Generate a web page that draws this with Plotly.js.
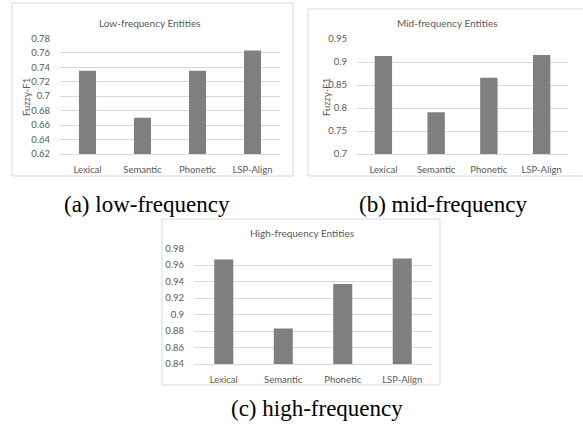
<!DOCTYPE html>
<html>
<head>
<meta charset="utf-8">
<script src="https://cdn.plot.ly/plotly-3.0.1.min.js"></script>
<style>html,body{margin:0;padding:0;background:#fff;}#chart{width:583px;height:425px;}</style>
</head>
<body>
<div id="chart"></div>
<script>
const categories = ["Lexical", "Semantic", "Phonetic", "LSP-Align"];
const lowValues = [0.735, 0.670, 0.735, 0.763];
const midValues = [0.913, 0.791, 0.866, 0.915];
const highValues = [0.967, 0.883, 0.937, 0.968];
const lowTicks = [0.62, 0.64, 0.66, 0.68, 0.70, 0.72, 0.74, 0.76, 0.78];
const lowTickText = ["0.62", "0.64", "0.66", "0.68", "0.7", "0.72", "0.74", "0.76", "0.78"];
const midTicks = [0.70, 0.75, 0.80, 0.85, 0.90, 0.95];
const midTickText = ["0.7", "0.75", "0.8", "0.85", "0.9", "0.95"];
const highTicks = [0.84, 0.86, 0.88, 0.90, 0.92, 0.94, 0.96, 0.98];
const highTickText = ["0.84", "0.86", "0.88", "0.9", "0.92", "0.94", "0.96", "0.98"];
const chartTitles = ["Low-frequency Entities", "Mid-frequency Entities", "High-frequency Entities"];
const captions = ["(a) low-frequency", "(b) mid-frequency", "(c) high-frequency"];
const yTitle = "Fuzzy-F1";

const W = 583, H = 425;
const px = v => v / W;
const py = v => 1 - v / H;
const sans = "Lato, 'Open Sans', sans-serif";
const serif = "'Liberation Serif', 'Times New Roman', serif";
const txt = "#595959";
const grid = "#d9d9d9";
const barColor = "#7f7f7f";

function barTrace(vals, xa, ya, w) {
  return {type: "bar", x: categories, y: vals, xaxis: xa, yaxis: ya,
    width: w, marker: {color: barColor}, showlegend: false, hoverinfo: "x+y"};
}
const data = [
  barTrace(lowValues, "x", "y", 0.31),
  barTrace(midValues, "x2", "y2", 0.33),
  barTrace(highValues, "x3", "y3", 0.32)
];

function xax(d, anchor) {
  return {domain: d, anchor: anchor, type: "category", showgrid: false, zeroline: false,
    showline: true, linecolor: grid, linewidth: 1, ticks: "", fixedrange: true,
    ticklabelstandoff: 7,
    tickfont: {family: sans, size: 9.5, color: txt}};
}
function yax(d, anchor, range, tv, tt) {
  return {domain: d, anchor: anchor, range: range, tickvals: tv, ticktext: tt,
    showgrid: true, gridcolor: grid, gridwidth: 1, zeroline: false, showline: false,
    ticks: "", fixedrange: true, ticklabelstandoff: 9,
    tickfont: {family: sans, size: 9.5, color: txt}};
}
function ann(text, x, y, font, extra) {
  return Object.assign({text: text, x: px(x), y: py(y), xref: "paper", yref: "paper",
    xanchor: "center", yanchor: "middle", showarrow: false, font: font}, extra || {});
}
const titleFont = {family: sans, size: 10, color: txt};
const yTitleFont = {family: sans, size: 9.5, color: txt};
const capFont = {family: serif, size: 23, color: "#000"};

const layout = {
  width: W, height: H, margin: {l: 0, r: 0, t: 0, b: 0},
  paper_bgcolor: "#fff", plot_bgcolor: "rgba(0,0,0,0)",
  showlegend: false,
  xaxis: xax([px(60), px(280)], "y"),
  yaxis: yax([py(154), py(38.3)], "x", [0.62, 0.78], lowTicks, lowTickText),
  xaxis2: xax([px(357), px(568)], "y2"),
  yaxis2: yax([py(154), py(39)], "x2", [0.7, 0.95], midTicks, midTickText),
  xaxis3: xax([px(194), px(432)], "y3"),
  yaxis3: yax([py(364), py(248.7)], "x3", [0.84, 0.98], highTicks, highTickText),
  shapes: [
    {type: "rect", xref: "paper", yref: "paper", x0: px(12), x1: px(293), y0: py(176), y1: py(3), line: {color: grid, width: 1}},
    {type: "rect", xref: "paper", yref: "paper", x0: px(308), x1: px(590), y0: py(176), y1: py(9), line: {color: grid, width: 1}},
    {type: "rect", xref: "paper", yref: "paper", x0: px(162), x1: px(440), y0: py(385), y1: py(219), line: {color: grid, width: 1}}
  ],
  annotations: [
    ann(chartTitles[0], 150, 23, titleFont),
    ann(chartTitles[1], 447, 23, titleFont),
    ann(chartTitles[2], 302, 233, titleFont),
    ann(yTitle, 26, 97, yTitleFont, {textangle: -90}),
    ann(yTitle, 326, 97, yTitleFont, {textangle: -90}),
    ann(captions[0], 146.7, 204, capFont),
    ann(captions[1], 443.3, 204, capFont),
    ann(captions[2], 316.5, 408, capFont)
  ]
};

Plotly.newPlot("chart", data, layout, {displayModeBar: false, staticPlot: true});
</script>
</body>
</html>
